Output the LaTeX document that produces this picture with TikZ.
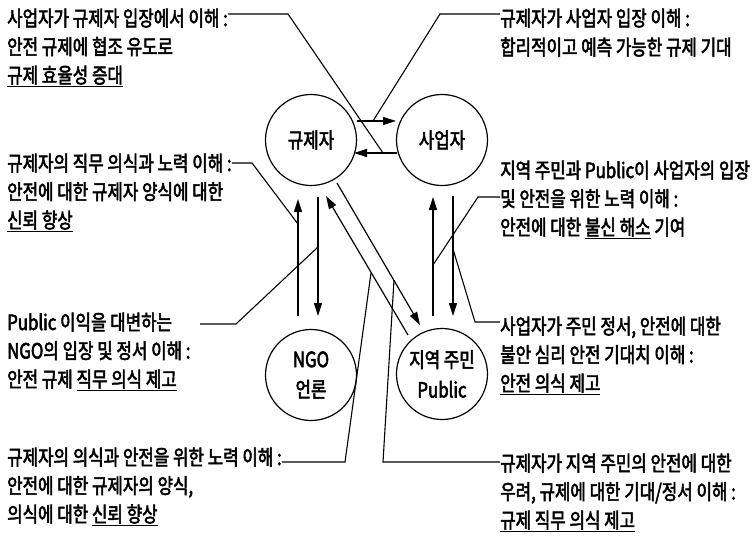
\documentclass[tikz,border=0pt]{standalone}
\usepackage{fontspec}
\setmainfont{Noto Sans CJK KR}[FakeStretch=0.8,FakeBold=2.5]
\usetikzlibrary{arrows.meta,calc}
\newcommand\undl[1]{\underline{#1}}
\begin{document}
\begin{tikzpicture}[x=1pt,y=-1pt,
  txt/.style={inner sep=0pt, anchor=base west, font=\fontsize{21}{28}\selectfont},
  circ/.style={circle, draw, line width=1.2pt, minimum size=91pt, inner sep=0pt, align=center, font=\fontsize{21}{30}\selectfont},
  arr/.style={line width=1.2pt, -{Triangle[length=13pt,width=8pt]}},
  lead/.style={line width=1.1pt}]
\useasboundingbox (0,0) rectangle (755,555);
\fill[white] (0,0) rectangle (755,555);

% circles
\node[circ] (reg) at (311,140) {규제자};
\node[circ] (biz) at (442,140) {사업자};
\node[circ] (ngo) at (311,375) {NGO\\언론};
\node[circ] (pub) at (442,374) {지역 주민\\Public};

% arrows between circles
\draw[arr] ($(reg)+(46,-19)$) -- ($(biz)+(-46,-19)$);
\draw[arr] ($(biz)+(-45,13)$) -- ($(reg)+(43,13)$);
\draw[arr] ($(ngo)+(-13,-59)$) -- ($(reg)+(-13,59)$);
\draw[arr] ($(reg)+(7,57)$) -- ($(ngo)+(7,-59)$);
\draw[arr] ($(pub)+(-9,-58)$) -- ($(biz)+(-9,57)$);
\draw[arr] ($(biz)+(11,56)$) -- ($(pub)+(11,-58)$);
\draw[arr] ($(pub)+(-34,-39)$) -- ($(reg)+(15,56)$);
\draw[arr] ($(reg)+(26,43)$) -- ($(pub)+(-22,-49)$);

% points on arrows where callouts end
\coordinate (p1) at (383,153);
\coordinate (p2) at (373,121);
\coordinate (p3) at (298,224);
\coordinate (p4) at (318,247);
\coordinate (p5) at (433,265);
\coordinate (p6) at (453,249);
\coordinate (p7) at (371,273);
\coordinate (p8) at (394,280);
\coordinate (q4) at (200,324);

% texts
\node[txt] (tl1) at (7,26) {사업자가 규제자 입장에서 이해 :};
\node[txt] (tl2) at (7,54.5) {안전 규제에 협조 유도로};
\node[txt] (tl3) at (7,83) {\undl{규제 효율성 증대}};

\node[txt] (tr1) at (500,26) {규제자가 사업자 입장 이해 :};
\node[txt] (tr2) at (500,55) {합리적이고 예측 가능한 규제 기대};

\node[txt] (ml1) at (7,171) {규제자의 직무 의식과 노력 이해 :};
\node[txt] (ml2) at (7,199.5) {안전에 대한 규제자 양식에 대한};
\node[txt] (ml3) at (7,228) {\undl{신뢰 향상}};

\node[txt] (mr1) at (500,178) {지역 주민과 Public이 사업자의 입장};
\node[txt] (mr2) at (500,206.5) {및 안전을 위한 노력 이해 :};
\node[txt] (mr3) at (500,235) {안전에 대한 \undl{불신 해소} 기여};

\node[txt] (ll1) at (7,330) {Public 이익을 대변하는};
\node[txt] (ll2) at (7,358.5) {NGO의 입장 및 정서 이해 :};
\node[txt] (ll3) at (7,387) {안전 규제 \undl{직무 의식 제고}};

\node[txt] (lr1) at (500,334) {사업자가 주민 정서, 안전에 대한};
\node[txt] (lr2) at (500,362.5) {불안 심리 안전 기대치 이해 :};
\node[txt] (lr3) at (500,391) {\undl{안전 의식 제고}};

\node[txt] (bl1) at (7,465) {규제자의 의식과 안전을 위한 노력 이해 :};
\node[txt] (bl2) at (7,493.5) {안전에 대한 규제자의 양식,};
\node[txt] (bl3) at (7,522) {의식에 대한 \undl{신뢰 향상}};

\node[txt] (br1) at (500,471) {규제자가 지역 주민의 안전에 대한};
\node[txt] (br2) at (500,499.5) {우려, 규제에 대한 기대/정서 이해 :};
\node[txt] (br3) at (500,528) {\undl{규제 직무 의식 제고}};

% callout lines
\draw[lead] (tl1.east |- 0,14) -- (288,14) -- (p1);
\draw[lead] (tr1.west |- 0,14) -- (440,14) -- (p2);
\draw[lead] (ml1.east |- 0,163) -- (252,163) -- (p3);
\draw[lead] (q4) -- (236,324) -- (p4);
\draw[lead] (mr2.west |- 0,197) -- (478,197) -- (p5);
\draw[lead] (lr1.west |- 0,322) -- (475,322) -- (p6);
\draw[lead] (bl1.east |- 0,462) -- (345,462) -- (p7);
\draw[lead] (br1.west |- 0,462) -- (383,462) -- (p8);
\end{tikzpicture}
\end{document}
